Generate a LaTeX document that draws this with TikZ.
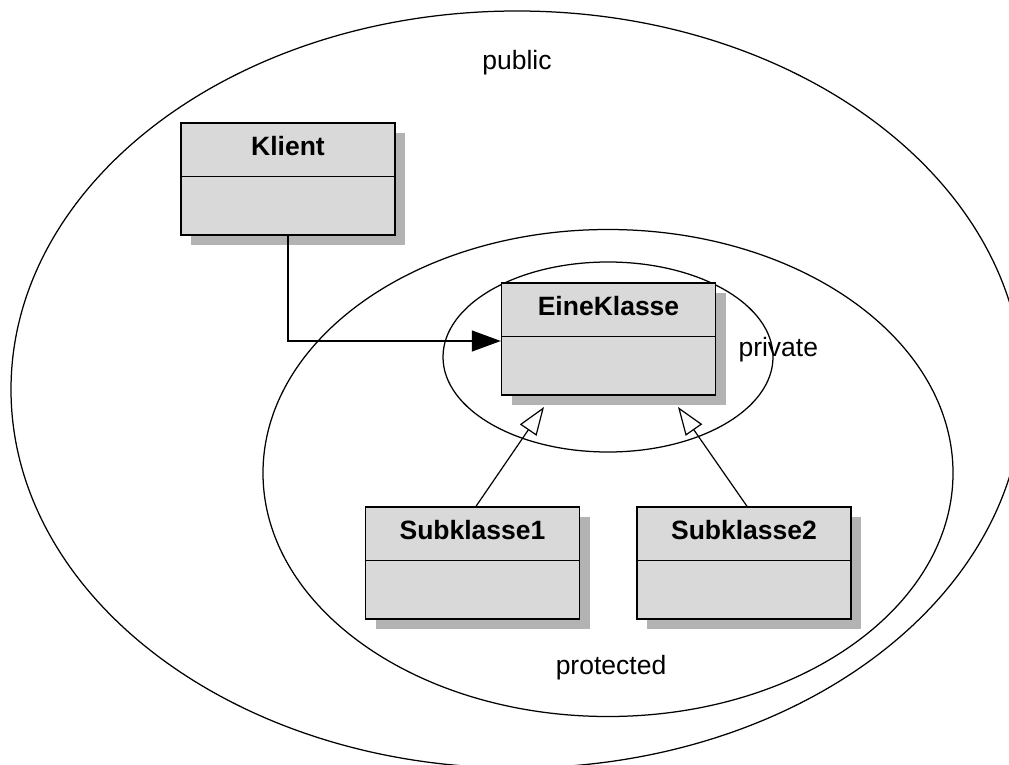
\documentclass[tikz,border=0pt]{standalone}
\usepackage{fontspec}
\setmainfont{Liberation Sans}
\usetikzlibrary{shadows,arrows.meta}

\definecolor{boxgray}{HTML}{D9D9D9}
\definecolor{shadowgray}{HTML}{B3B3B3}

\tikzset{
  scopering/.style={draw=black, line width=1.25pt},
  classbox/.style={draw=black, line width=1.4pt, fill=boxgray,
    minimum width=214pt, minimum height=112pt, inner sep=0pt,
    drop shadow={shadow xshift=10pt, shadow yshift=-10pt,
      fill=shadowgray, opacity=1}},
  classname/.style={font=\fontsize{26.5}{30}\selectfont\bfseries, anchor=base},
  scopelabel/.style={font=\fontsize{26.5}{30}\selectfont, anchor=base},
  divider/.style={draw=black, line width=1.4pt},
  assoc/.style={draw=black, line width=1.3pt,
    -{Triangle[length=29pt, width=21pt]}},
  generalize/.style={draw=black, line width=1.2pt,
    -{Triangle[open, length=28pt, width=20pt, fill=white]}}
}

\begin{document}
\begin{tikzpicture}[x=1pt, y=-1pt]
  \useasboundingbox (0,0) rectangle (1009,765);
  \fill[white] (0,0) rectangle (1009,765);

  % visibility scopes
  \begin{scope}
    \clip (0,0) rectangle (1009,765);
    \draw[scopering] (517,389.5) ellipse [x radius=506, y radius=378.5];
  \end{scope}
  \draw[scopering] (608,473) ellipse [x radius=345, y radius=243.5];
  \draw[scopering] (608,357) ellipse [x radius=165, y radius=95];

  \node[scopelabel] (public) at (517,70) {public};
  \node[scopelabel, anchor=base west] (private) at (735,356) {private};
  \node[scopelabel] (protected) at (611,674) {protected};

  % classes: box, divider below the name compartment, name
  \node[classbox] (klient) at (288,179) {};
  \draw[divider] ([yshift=-54pt]klient.north west) -- ([yshift=-54pt]klient.north east);
  \node[classname] (klientname) at ([yshift=-33pt]klient.north) {Klient};

  \node[classbox] (eine) at (608.5,339) {};
  \draw[divider] ([yshift=-54pt]eine.north west) -- ([yshift=-54pt]eine.north east);
  \node[classname] (einename) at ([yshift=-33pt]eine.north) {EineKlasse};

  \node[classbox] (subA) at (472.5,563) {};
  \draw[divider] ([yshift=-54pt]subA.north west) -- ([yshift=-54pt]subA.north east);
  \node[classname] (subAname) at ([yshift=-33pt]subA.north) {Subklasse1};

  \node[classbox] (subB) at (744,563) {};
  \draw[divider] ([yshift=-54pt]subB.north west) -- ([yshift=-54pt]subB.north east);
  \node[classname] (subBname) at ([yshift=-33pt]subB.north) {Subklasse2};

  % association Klient -> EineKlasse
  \draw[assoc] (klient.south) |- ([yshift=-2pt]eine.west);

  % generalizations
  \coordinate (tipA) at (544,407);
  \coordinate (tipB) at (678,407);
  \draw[generalize] ([xshift=3.5pt]subA.north) -- (tipA);
  \draw[generalize] ([xshift=3pt]subB.north) -- (tipB);
\end{tikzpicture}
\end{document}
